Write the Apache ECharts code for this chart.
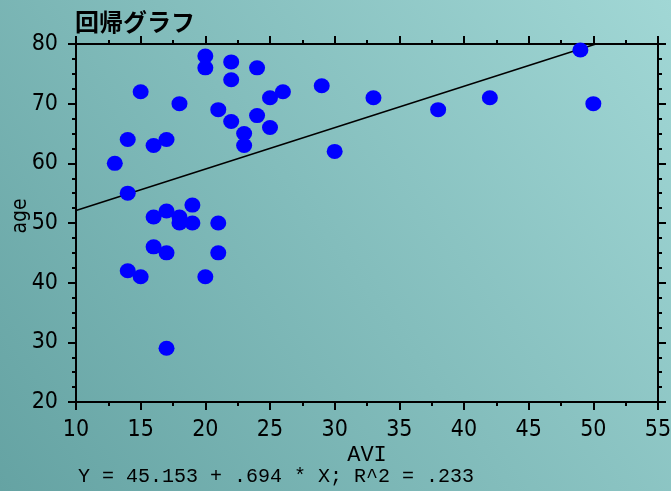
<!DOCTYPE html>
<html>
<head>
<meta charset="utf-8">
<script src="https://cdn.jsdelivr.net/npm/echarts@6/dist/echarts.min.js"></script>
<style>
html,body{margin:0;padding:0;}
#chart{width:671px;height:491px;}
</style>
</head>
<body>
<div id="chart"></div>
<script>
// ---- data ----
const titleText = '回帰グラフ';
const xName = 'AVI';
const yName = 'age';
const equationText = 'Y = 45.153 + .694 * X; R^2 = .233';
const avi = [13,14,14,15,16,17,18,20,20,21,22,22,22,23,23,24,24,25,25,26,29,30,16,17,18,18,19,19,21,16,17,21,14,15,20,17,33,38,42,49,50];
const age = [60,64,55,72,63,64,70,78,76,69,77,74,67,65,63,76,68,71,66,72,73,62,51,52,51,50,53,50,50,46,45,45,42,41,41,29,71,69,71,79,70];
const fitX = [10, 50.2];
const fitY = [52.1, 80];
const xTicks = [10,15,20,25,30,35,40,45,50,55];
const yTicks = [20,30,40,50,60,70,80];

const points = avi.map((x, i) => [x, age[i]]);
const fitLine = fitX.map((x, i) => [x, fitY[i]]);

const labelFont = "'Liberation Sans Narrow', 'DejaVu Sans Condensed', sans-serif";
const monoFont = "'Liberation Mono', 'DejaVu Sans Mono', monospace";

const axisCommon = {
  type: 'value',
  axisLine: { show: true, onZero: false, lineStyle: { color: '#000', width: 2 } },
  axisTick: { show: true, inside: false, length: 8, lineStyle: { color: '#000', width: 2 } },
  minorTick: { show: true, length: 4, lineStyle: { color: '#000', width: 2 } },
  splitLine: { show: false },
  minorSplitLine: { show: false }
};

const chart = echarts.init(document.getElementById('chart'), null, { renderer: 'canvas' });
chart.setOption({
  backgroundColor: new echarts.graphic.LinearGradient(1, 0, 0, 1, [
    { offset: 0, color: '#a1d7d5' },
    { offset: 1, color: '#65a3a3' }
  ]),
  animation: false,
  title: {
    text: titleText,
    left: 70, top: 5,
    textStyle: { fontFamily: "'Noto Sans CJK JP', sans-serif", fontWeight: 'bold', fontSize: 24, color: '#000' }
  },
  grid: { left: 76, right: 13, top: 44, bottom: 89, containLabel: false, outerBoundsMode: 'none' },
  xAxis: [
    Object.assign({}, axisCommon, {
      position: 'bottom', min: xTicks[0], max: xTicks[xTicks.length - 1], interval: 5,
      minorTick: Object.assign({}, axisCommon.minorTick, { splitNumber: 2 }),
      axisLabel: { show: true, margin: 17, fontFamily: labelFont, fontSize: 23, color: '#000', hideOverlap: false },
      name: xName, nameLocation: 'middle', nameGap: 42, nameMoveOverlap: false,
      nameTextStyle: { fontFamily: monoFont, fontSize: 22, color: '#000' }
    }),
    Object.assign({}, axisCommon, {
      position: 'top', min: xTicks[0], max: xTicks[xTicks.length - 1], interval: 5,
      minorTick: Object.assign({}, axisCommon.minorTick, { splitNumber: 2 }),
      axisLabel: { show: false }
    })
  ],
  yAxis: [
    Object.assign({}, axisCommon, {
      position: 'left', min: yTicks[0], max: yTicks[yTicks.length - 1], interval: 10,
      minorTick: Object.assign({}, axisCommon.minorTick, { splitNumber: 4 }),
      axisLabel: { show: true, margin: 18, fontFamily: labelFont, fontSize: 23, color: '#000' },
      name: yName, nameLocation: 'middle', nameGap: 45, nameMoveOverlap: false,
      nameTextStyle: { fontFamily: labelFont, fontSize: 21, color: '#000', padding: [0, 0, 0, 14] }
    }),
    Object.assign({}, axisCommon, {
      position: 'right', min: yTicks[0], max: yTicks[yTicks.length - 1], interval: 10,
      minorTick: Object.assign({}, axisCommon.minorTick, { splitNumber: 4 }),
      axisLabel: { show: false }
    })
  ],
  series: [
    {
      type: 'line', xAxisIndex: 0, yAxisIndex: 0,
      data: fitLine, symbol: 'none', z: 1,
      lineStyle: { color: '#000', width: 1.5 }
    },
    {
      type: 'scatter', xAxisIndex: 0, yAxisIndex: 0,
      data: points, symbol: 'circle', symbolSize: [16, 15], z: 2,
      itemStyle: { color: '#0000ff', opacity: 1 }
    }
  ],
  graphic: [
    {
      type: 'text', left: 78, top: 467,
      style: { text: equationText, font: "20px 'Liberation Mono', 'DejaVu Sans Mono', monospace", fill: '#000' }
    }
  ]
});
</script>
</body>
</html>
